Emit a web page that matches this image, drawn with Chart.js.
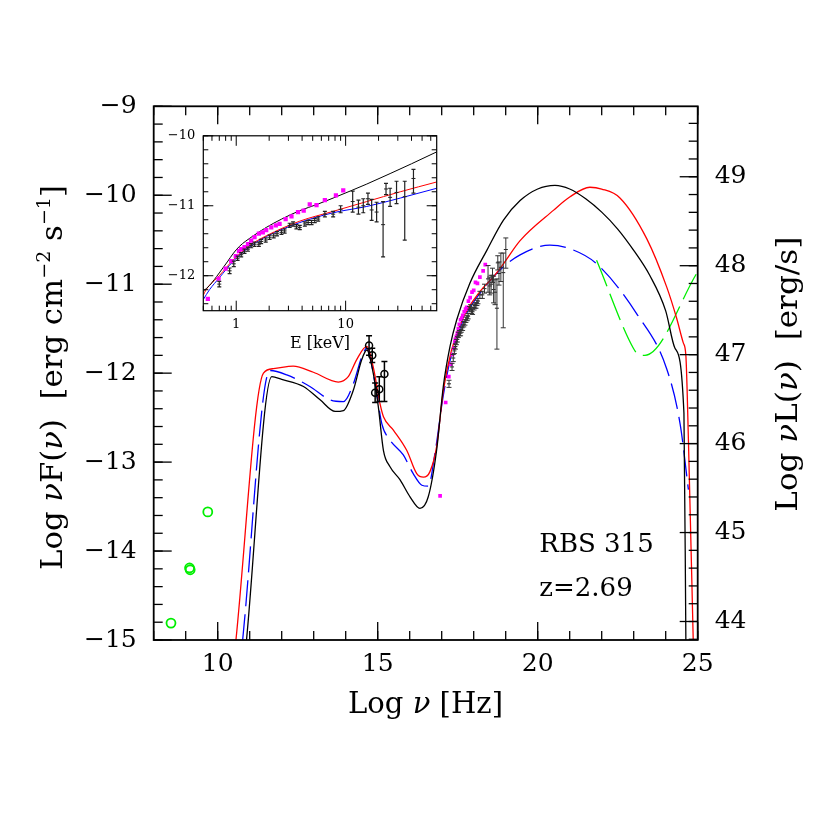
<!DOCTYPE html>
<html>
<head>
<meta charset="utf-8">
<script src="https://cdn.jsdelivr.net/npm/chart.js@4.4.1/dist/chart.umd.min.js"></script>
<style>
  html, body { margin: 0; padding: 0; background: #ffffff; }
  #wrap { position: relative; width: 830px; height: 830px; background: #ffffff; }
  #wrap canvas { position: absolute; }
</style>
</head>
<body>
<div id="wrap">
  <canvas id="main" width="830" height="830" style="left:0;top:0;"></canvas>
  <canvas id="inset" width="300" height="240" style="left:150px;top:120px;"></canvas>
</div>
<script>
// ---------------- DATA ----------------
// conversion between keV and log10(Hz)
const KEV_TO_LOG_HZ = 17.3835;
// offset between Log nuF(nu) and Log nuL(nu)
const L_OFFSET = 58.792;

// SED model curves (log nu [Hz], log nuF(nu))
const blackNu = [10.9, 11.69, 12.0, 12.68, 13.2, 13.67, 13.93, 14.24, 14.5, 14.66, 14.86, 15.02, 15.18, 15.38, 15.7, 16.01, 16.32, 16.58, 16.84, 17.05, 17.26, 17.47, 17.88, 18.41, 18.93, 19.45, 20.0, 20.54, 21.0, 21.5, 22.0, 22.5, 23.0, 23.5, 24.0, 24.29, 24.57, 24.63];
const blackF  = [-15, -12.04, -12.07, -12.15, -12.30, -12.43, -12.42, -12.19, -11.85, -11.74, -12.0, -12.38, -12.87, -13.05, -13.2, -13.39, -13.52, -13.39, -12.87, -12.15, -11.70, -11.40, -10.99, -10.62, -10.28, -10.06, -9.93, -9.89, -9.93, -10.04, -10.19, -10.38, -10.62, -10.90, -11.30, -11.72, -12.45, -15];

const redNu = [10.57, 11.43, 11.74, 12.36, 12.99, 13.77, 14.08, 14.34, 14.66, 14.86, 15.07, 15.18, 15.49, 15.91, 16.22, 16.43, 16.63, 16.84, 17.05, 17.3, 17.68, 18.2, 18.61, 18.93, 19.45, 20.49, 21.0, 21.63, 22.0, 22.57, 23.41, 24.03, 24.34, 24.55, 24.63, 24.71, 24.86];
const redF  = [-15, -12.0, -11.95, -11.92, -11.99, -12.1, -12.04, -11.85, -11.70, -11.93, -12.34, -12.49, -12.64, -12.87, -13.13, -13.17, -13.11, -12.83, -12.2, -11.75, -11.37, -11.08, -10.92, -10.77, -10.51, -10.17, -10.02, -9.91, -9.93, -10.03, -10.49, -11.03, -11.38, -11.66, -11.8, -12.75, -15];

const blueNu = [10.78, 11.63, 12.16, 12.88, 13.51, 13.93, 14.24, 14.5, 14.66, 14.92, 15.13, 15.38, 15.8, 16.11, 16.38, 16.58, 16.79, 17.05, 17.3, 17.68, 18.2, 18.82, 19.45, 20.38, 21.0, 21.84, 23.09, 24.03, 24.45, 24.71];
const blueF  = [-15, -11.97, -12.02, -12.15, -12.30, -12.32, -12.12, -11.82, -11.72, -12.12, -12.57, -12.75, -12.92, -13.13, -13.26, -13.27, -12.90, -12.25, -11.8, -11.40, -11.10, -10.84, -10.67, -10.56, -10.60, -10.77, -11.33, -11.95, -12.57, -13.31];

const greenNu = [21.84, 22.99, 23.15, 23.35, 25.0];
const greenF  = [-10.73, -11.72, -11.79, -11.80, -10.86];

// radio points (open green circles)
const radioNu = [8.54, 9.12, 9.14, 9.69];
const radioF  = [-14.81, -14.19, -14.21, -13.56];

// optical points (open black circles with error bars)
const optNu    = [14.73, 14.83, 14.92, 15.05, 15.21];
const optF     = [-11.69, -11.80, -12.22, -12.18, -12.01];
const optErrUp = [0.11, 0.08, 0.11, 0.14, 0.14];
const optErrDn = [0.11, 0.08, 0.11, 0.14, 0.31];

// single UV point (magenta)
const uvNu = [16.95];
const uvF  = [-13.38];

// X-ray data, black with error bars (E in keV, log nuF(nu))
const xrayE = [0.70, 0.87, 0.95, 1.03, 1.11, 1.19, 1.28, 1.37, 1.47, 1.61, 1.69, 1.86, 2.02, 2.20, 2.36, 2.59, 2.77, 3.08, 3.31, 3.55, 3.81, 4.24, 4.54, 4.88, 5.22, 5.61, 6.46, 7.69, 9.0, 11.6, 13.1, 14.5, 16.0, 17.3, 19.2, 22.0, 23.4, 25.5, 29.2, 34.7, 41.7];
const xrayF = [-12.12, -11.93, -11.83, -11.75, -11.70, -11.65, -11.62, -11.57, -11.55, -11.55, -11.51, -11.49, -11.45, -11.43, -11.40, -11.38, -11.36, -11.28, -11.26, -11.30, -11.31, -11.26, -11.24, -11.24, -11.21, -11.19, -11.12, -11.12, -11.05, -10.94, -11.02, -11.00, -10.90, -11.06, -11.09, -11.27, -10.76, -10.88, -10.81, -10.87, -10.61];
const xrayErrUp = [0.04, 0.04, 0.04, 0.03, 0.03, 0.03, 0.03, 0.03, 0.03, 0.03, 0.03, 0.03, 0.03, 0.03, 0.03, 0.03, 0.03, 0.03, 0.03, 0.03, 0.03, 0.03, 0.03, 0.03, 0.03, 0.03, 0.04, 0.04, 0.05, 0.15, 0.10, 0.10, 0.08, 0.15, 0.14, 0.33, 0.08, 0.13, 0.16, 0.22, 0.13];
const xrayErrDn = [0.04, 0.04, 0.04, 0.03, 0.03, 0.03, 0.03, 0.03, 0.03, 0.03, 0.03, 0.03, 0.03, 0.03, 0.03, 0.03, 0.03, 0.03, 0.03, 0.03, 0.03, 0.03, 0.03, 0.03, 0.03, 0.03, 0.04, 0.04, 0.05, 0.15, 0.10, 0.10, 0.08, 0.15, 0.14, 0.46, 0.08, 0.13, 0.16, 0.62, 0.21];

// X-ray data, magenta squares (E in keV, log nuF(nu))
const xmagE = [0.55, 0.69, 0.80, 0.90, 0.99, 1.06, 1.11, 1.19, 1.28, 1.37, 1.47, 1.61, 1.75, 1.88, 2.09, 2.30, 2.49, 2.83, 3.20, 3.67, 4.14, 4.70, 5.42, 6.46, 8.15, 9.51];
const xmagF = [-12.33, -12.04, -11.90, -11.79, -11.72, -11.65, -11.62, -11.59, -11.55, -11.50, -11.45, -11.40, -11.38, -11.35, -11.31, -11.28, -11.26, -11.19, -11.15, -11.09, -11.07, -10.98, -10.99, -10.92, -10.85, -10.78];

// inset model curves (E in keV, log nuF(nu))
const insBlackE = [0.5, 0.57, 0.7, 0.84, 0.93, 1.07, 1.4, 1.88, 2.6, 3.81, 5.5, 7.69, 11, 15.6, 25.5, 40, 68];
const insBlackF = [-12.22, -12.14, -11.96, -11.79, -11.69, -11.58, -11.44, -11.31, -11.19, -11.07, -10.98, -10.89, -10.79, -10.69, -10.54, -10.40, -10.23];
const insRedE = [0.5, 0.53, 0.7, 0.93, 1.32, 1.88, 3.81, 7.69, 15.6, 31.6, 68];
const insRedF = [-12.28, -12.2, -12.0, -11.78, -11.57, -11.43, -11.22, -11.08, -10.94, -10.80, -10.66];
const insBlueE = [0.5, 0.57, 0.7, 0.93, 1.32, 1.88, 3.81, 7.69, 15.6, 31.6, 68];
const insBlueF = [-12.34, -12.2, -12.03, -11.80, -11.59, -11.44, -11.24, -11.10, -11.01, -10.89, -10.75];

// tick labels
const xTickVals  = [10, 15, 20, 25];
const yTickVals  = [-15, -14, -13, -12, -11, -10, -9];
const lTickVals  = [44, 45, 46, 47, 48, 49];
const insXTicks  = [1, 10];
const insYTicks  = [-12, -11, -10];

// text
const sourceName = 'RBS 315';
const redshiftText = 'z=2.69';

// ---------------- HELPERS ----------------
const FONT = "'DejaVu Serif', 'Liberation Serif', serif";
Chart.defaults.font.family = FONT;
Chart.defaults.color = '#000';

const pts = (xs, ys) => xs.map((x, i) => ({ x: x, y: ys[i] }));
const keVtoNu = e => Math.log10(e) + KEV_TO_LOG_HZ;
const minus = v => String(v).replace('-', '\u2212');

function rangeVals(a, b, step) {
  const out = [];
  const n = Math.round((b - a) / step);
  for (let i = 0; i <= n; i++) out.push(+(a + i * step).toFixed(6));
  return out;
}

function drawTickMarks(ctx, scale, values, len, edge, area) {
  values.forEach(v => {
    if (v < scale.min - 1e-9 || v > scale.max + 1e-9) return;
    const p = scale.getPixelForValue(v);
    ctx.beginPath();
    if (edge === 'left') { ctx.moveTo(area.left, p); ctx.lineTo(area.left + len, p); }
    if (edge === 'right') { ctx.moveTo(area.right, p); ctx.lineTo(area.right - len, p); }
    if (edge === 'bottom') { ctx.moveTo(p, area.bottom); ctx.lineTo(p, area.bottom - len); }
    if (edge === 'top') { ctx.moveTo(p, area.top); ctx.lineTo(p, area.top + len); }
    ctx.stroke();
  });
}

const errorBars = {
  id: 'errorBars',
  afterDatasetsDraw(chart) {
    const ctx = chart.ctx, area = chart.chartArea, ys = chart.scales.y;
    ctx.save();
    ctx.beginPath(); ctx.rect(area.left, area.top, area.right - area.left, area.bottom - area.top); ctx.clip();
    chart.data.datasets.forEach((ds, i) => {
      if (!ds.errUp) return;
      const meta = chart.getDatasetMeta(i);
      ctx.strokeStyle = ds.errColor || '#000';
      ctx.lineWidth = ds.errWidth || 1;
      const c = ds.capHalf || 2;
      meta.data.forEach((el, j) => {
        const v = ds.data[j].y;
        const yt = ys.getPixelForValue(v + ds.errUp[j]);
        const yb = ys.getPixelForValue(v - ds.errDn[j]);
        const x = el.x;
        ctx.beginPath();
        ctx.moveTo(x, yt); ctx.lineTo(x, yb);
        ctx.moveTo(x - c, yt); ctx.lineTo(x + c, yt);
        ctx.moveTo(x - c, yb); ctx.lineTo(x + c, yb);
        ctx.stroke();
      });
    });
    ctx.restore();
  }
};

function drawRuns(ctx, runs, x0, y0, rot, targetW) {
  ctx.save();
  ctx.translate(x0, y0);
  ctx.rotate(rot);
  ctx.textBaseline = 'alphabetic';
  ctx.textAlign = 'left';
  ctx.fillStyle = '#000';
  let w = 0;
  runs.forEach(r => { ctx.font = r.font; r.w = ctx.measureText(r.t).width; w += r.w; });
  const sx = targetW ? targetW / w : 1;
  ctx.scale(sx, 1);
  let x = 0;
  runs.forEach(r => { ctx.font = r.font; ctx.fillText(r.t, x, r.dy || 0); x += r.w; });
  ctx.restore();
}

const TF = "29px " + FONT, TI = "italic 29px " + FONT, TS = "18px " + FONT;

const mainDecor = {
  id: 'mainDecor',
  afterDraw(chart) {
    const ctx = chart.ctx, a = chart.chartArea;
    const sx = chart.scales.x, sy = chart.scales.y, sl = chart.scales.yR;
    ctx.save();
    ctx.strokeStyle = '#000';
    ctx.lineWidth = 1.3;
    const xMinor = rangeVals(8, 25, 1);
    drawTickMarks(ctx, sx, xMinor, 9, 'bottom', a);
    drawTickMarks(ctx, sx, xMinor, 9, 'top', a);
    drawTickMarks(ctx, sx, xTickVals, 18, 'bottom', a);
    drawTickMarks(ctx, sx, xTickVals, 18, 'top', a);
    drawTickMarks(ctx, sy, rangeVals(-15, -9, 0.2), 9, 'left', a);
    drawTickMarks(ctx, sy, yTickVals, 18, 'left', a);
    drawTickMarks(ctx, sl, rangeVals(43.8, 49.8, 0.2), 9, 'right', a);
    drawTickMarks(ctx, sl, lTickVals, 18, 'right', a);
    ctx.lineWidth = 1.8;
    ctx.strokeRect(a.left, a.top, a.right - a.left, a.bottom - a.top);
    ctx.fillStyle = '#000';
    ctx.font = "26px " + FONT;
    ctx.textAlign = 'left';
    ctx.textBaseline = 'alphabetic';
    ctx.fillText(sourceName, sx.getPixelForValue(20.05), sy.getPixelForValue(-14.01));
    ctx.fillText(redshiftText, sx.getPixelForValue(20.05), sy.getPixelForValue(-14.51));
    ctx.restore();
    drawRuns(ctx, [
      { t: 'Log ', font: TF }, { t: '\u03bd', font: TI }, { t: 'F(', font: TF }, { t: '\u03bd', font: TI },
      { t: ')  [erg cm', font: TF }, { t: '\u22122', font: TS, dy: -12 }, { t: ' s', font: TF },
      { t: '\u22121', font: TS, dy: -12 }, { t: ']', font: TF }
    ], 61.7, 570, -Math.PI / 2, 385);
    drawRuns(ctx, [
      { t: 'Log ', font: TF }, { t: '\u03bd', font: TI }, { t: 'L(', font: TF }, { t: '\u03bd', font: TI },
      { t: ')  [erg/s]', font: TF }
    ], 796.7, 511.7, -Math.PI / 2, 275);
    drawRuns(ctx, [
      { t: 'Log ', font: TF }, { t: '\u03bd', font: TI }, { t: ' [Hz]', font: TF }
    ], 348, 713, 0, 155);
  }
};

const insetDecor = {
  id: 'insetDecor',
  afterDraw(chart) {
    const ctx = chart.ctx, a = chart.chartArea;
    const sx = chart.scales.x, sy = chart.scales.y;
    ctx.save();
    ctx.strokeStyle = '#000';
    ctx.lineWidth = 1;
    const minorX = [];
    [0.1, 1, 10].forEach(d => { for (let k = 2; k <= 9; k++) minorX.push(+(k * d).toFixed(6)); });
    drawTickMarks(ctx, sx, minorX, 5, 'bottom', a);
    drawTickMarks(ctx, sx, minorX, 5, 'top', a);
    drawTickMarks(ctx, sx, insXTicks, 10, 'bottom', a);
    drawTickMarks(ctx, sx, insXTicks, 10, 'top', a);
    const minorY = rangeVals(-12.4, -10, 0.2);
    drawTickMarks(ctx, sy, minorY, 5, 'left', a);
    drawTickMarks(ctx, sy, minorY, 5, 'right', a);
    drawTickMarks(ctx, sy, insYTicks, 10, 'left', a);
    drawTickMarks(ctx, sy, insYTicks, 10, 'right', a);
    ctx.lineWidth = 1.2;
    ctx.strokeRect(a.left, a.top, a.right - a.left, a.bottom - a.top);
    ctx.restore();
  }
};

const lineDs = (label, xs, ys, color, dash, width) => ({
  label: label, data: pts(xs, ys), showLine: true, borderColor: color, borderWidth: width,
  borderDash: dash || [], pointRadius: 0, fill: false, cubicInterpolationMode: 'monotone'
});

// ---------------- MAIN CHART ----------------
new Chart(document.getElementById('main'), {
  type: 'scatter',
  data: {
    datasets: [
      {
        label: 'optical', data: pts(optNu, optF), pointStyle: 'circle', pointRadius: 3.5,
        pointBackgroundColor: 'rgba(255,255,255,0)', pointBorderColor: '#000', pointBorderWidth: 1.5,
        errUp: optErrUp, errDn: optErrDn, errColor: '#000', errWidth: 1.5, capHalf: 3
      },
      {
        label: 'X-ray', data: pts(xrayE.map(keVtoNu), xrayF), pointStyle: 'line', pointRadius: 2,
        pointBorderColor: '#222', pointBorderWidth: 1,
        errUp: xrayErrUp, errDn: xrayErrDn, errColor: '#333', errWidth: 1, capHalf: 2.5
      },
      {
        label: 'X-ray (magenta)', data: pts(xmagE.map(keVtoNu), xmagF), pointStyle: 'rect', pointRadius: 2.6,
        pointBackgroundColor: '#ff00ff', pointBorderColor: '#ff00ff', pointBorderWidth: 0
      },
      {
        label: 'UV', data: pts(uvNu, uvF), pointStyle: 'rect', pointRadius: 2.6,
        pointBackgroundColor: '#ff00ff', pointBorderColor: '#ff00ff', pointBorderWidth: 0
      },
      {
        label: 'radio', data: pts(radioNu, radioF), pointStyle: 'circle', pointRadius: 4.5,
        pointBackgroundColor: 'rgba(255,255,255,0)', pointBorderColor: '#00ee00', pointBorderWidth: 1.8
      },
      lineDs('model black', blackNu, blackF, '#000000', [], 1.3),
      lineDs('model red', redNu, redF, '#ff0000', [], 1.3),
      lineDs('model blue', blueNu, blueF, '#0000ff', [26, 8], 1.3),
      lineDs('green', greenNu, greenF, '#00ee00', [28, 8], 1.3)
    ]
  },
  options: {
    responsive: false, animation: false, devicePixelRatio: 1,
    layout: { padding: { top: 106.3, left: 0, right: 0, bottom: 0 } },
    plugins: { legend: { display: false }, tooltip: { enabled: false } },
    scales: {
      x: {
        type: 'linear', position: 'bottom', min: 8, max: 25,
        grid: { display: false, drawTicks: false }, border: { display: false },
        afterBuildTicks: s => { s.ticks = xTickVals.map(v => ({ value: v })); },
        afterFit: s => { s.height = 190; },
        ticks: { padding: 9, font: { size: 25 }, color: '#000', maxRotation: 0, autoSkip: false, callback: v => minus(v) }
      },
      y: {
        type: 'linear', position: 'left', min: -15, max: -9,
        grid: { display: false, drawTicks: false }, border: { display: false },
        afterBuildTicks: s => { s.ticks = yTickVals.map(v => ({ value: v })); },
        afterFit: s => { s.width = 153.7; },
        ticks: { padding: 17, font: { size: 25 }, color: '#000', autoSkip: false, callback: v => minus(v) }
      },
      yR: {
        type: 'linear', position: 'right', min: -15 + L_OFFSET, max: -9 + L_OFFSET,
        grid: { display: false, drawTicks: false }, border: { display: false },
        afterBuildTicks: s => { s.ticks = lTickVals.map(v => ({ value: v })); },
        afterFit: s => { s.width = 830 - 697.7; },
        ticks: { padding: 17, font: { size: 25 }, color: '#000', autoSkip: false, callback: v => minus(v) }
      }
    }
  },
  plugins: [errorBars, mainDecor]
});

// ---------------- INSET CHART ----------------
new Chart(document.getElementById('inset'), {
  type: 'scatter',
  data: {
    datasets: [
      {
        label: 'X-ray', data: pts(xrayE, xrayF), pointStyle: 'line', pointRadius: 2,
        pointBorderColor: '#222', pointBorderWidth: 1,
        errUp: xrayErrUp, errDn: xrayErrDn, errColor: '#222', errWidth: 1.2, capHalf: 2
      },
      {
        label: 'X-ray (magenta)', data: pts(xmagE, xmagF), pointStyle: 'rect', pointRadius: 3,
        pointBackgroundColor: '#ff00ff', pointBorderColor: '#ff00ff', pointBorderWidth: 0
      },
      lineDs('model black', insBlackE, insBlackF, '#000000', [], 1),
      lineDs('model red', insRedE, insRedF, '#ff0000', [], 1),
      lineDs('model blue', insBlueE, insBlueF, '#0000ff', [], 1)
    ]
  },
  options: {
    responsive: false, animation: false, devicePixelRatio: 1,
    layout: { padding: { top: 13.3, right: 13.3, left: 0, bottom: 0 } },
    plugins: { legend: { display: false }, tooltip: { enabled: false } },
    scales: {
      x: {
        type: 'logarithmic', position: 'bottom', min: 0.5, max: 68,
        grid: { display: false, drawTicks: false }, border: { display: false },
        afterBuildTicks: s => { s.ticks = insXTicks.map(v => ({ value: v })); },
        afterFit: s => { s.height = 49.3; },
        ticks: { padding: 6, font: { size: 13 }, color: '#000', maxRotation: 0, autoSkip: false, callback: v => String(v) },
        title: { display: true, text: 'E [keV]', font: { size: 16 }, color: '#000', padding: { top: 0, bottom: 7 } }
      },
      y: {
        type: 'linear', position: 'left', min: -12.5, max: -10,
        grid: { display: false, drawTicks: false }, border: { display: false },
        afterBuildTicks: s => { s.ticks = insYTicks.map(v => ({ value: v })); },
        afterFit: s => { s.width = 53.3; },
        ticks: { padding: 8, font: { size: 13 }, color: '#000', autoSkip: false, callback: v => minus(v) }
      }
    }
  },
  plugins: [errorBars, insetDecor]
});
</script>
</body>
</html>
